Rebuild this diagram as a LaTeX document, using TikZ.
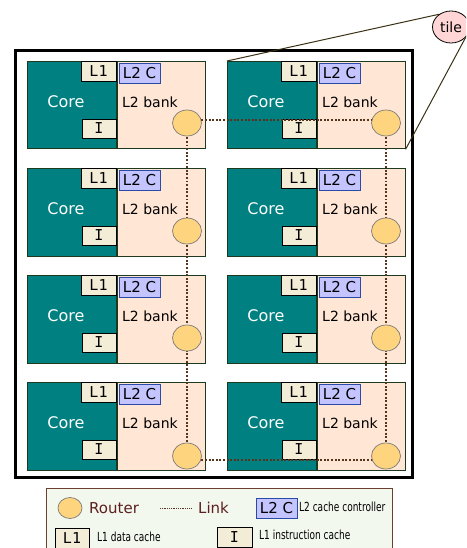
\documentclass[tikz,border=0pt]{standalone}
\usepackage{fontspec}
\setmainfont{DejaVu Sans}
\newfontfamily\monof{DejaVu Sans Mono}
\newfontfamily\condf[FakeStretch=0.72]{DejaVu Sans}
\usetikzlibrary{shapes.geometric}
\definecolor{coreteal}{HTML}{008080}
\definecolor{tileborder}{HTML}{1E3A1E}
\definecolor{peach}{HTML}{FFE6D5}
\definecolor{cream}{HTML}{F3EDD7}
\definecolor{ctrlfill}{HTML}{C4C4FF}
\definecolor{ctrlblue}{HTML}{2A4AA8}
\definecolor{routerfill}{HTML}{FFD47F}
\definecolor{routerborder}{HTML}{7A7A7A}
\definecolor{linkbrown}{HTML}{55351E}
\definecolor{tilepink}{HTML}{FFD5D5}
\definecolor{zoomline}{HTML}{3B3215}
\definecolor{legfill}{HTML}{F3F8EE}
\definecolor{legborder}{HTML}{6B4030}
\definecolor{legtext}{HTML}{5C1F1F}
\newcommand\mytile[5]{%
  \node[corebox, anchor=north west] (#1c) at (#2,#3) {};
  \node[l2box, anchor=north west] (#1b) at (#1c.north east) {};
  \node[coretext] (#1ct) at (#2+39,#3+41) {Core};
  \node[banktext] (#1bt) at (#2+123,#3+41) {L2 bank};
  \node[cachebox] (#1d) at (#2+71.5,#3+10) {L1};
  \node[cachebox, minimum width=34pt, minimum height=19pt] (#1i) at (#2+72,#3+67.5) {I};
  \node[ctrlbox] (#1k) at (#2+112.5,#3+12) {L2 C};
  \coordinate (#1r) at (#2+#4,#3+#5);
}
\begin{document}
\begin{tikzpicture}[x=1pt,y=-1pt,
  corebox/.style={draw=tileborder, fill=coreteal, minimum width=89pt, minimum height=87.5pt, inner sep=0pt, line width=0.8pt},
  l2box/.style={draw=tileborder, fill=peach, minimum width=88pt, minimum height=87.5pt, inner sep=0pt, line width=0.8pt},
  coretext/.style={text=white, font=\fontsize{16}{16}\selectfont, inner sep=0pt},
  banktext/.style={text=black, font=\fontsize{14}{14}\selectfont, inner sep=0pt},
  cachebox/.style={draw=black, fill=cream, inner sep=0pt, minimum width=35pt, minimum height=20pt, font=\monof\fontsize{15}{15}\selectfont, line width=0.8pt},
  ctrlbox/.style={draw=ctrlblue, fill=ctrlfill, minimum width=41pt, minimum height=20pt, inner sep=0pt, font=\fontsize{15}{15}\selectfont, line width=0.8pt},
  router/.style={ellipse, draw=routerborder, fill=routerfill, minimum width=29pt, minimum height=26pt, inner sep=0pt, line width=0.7pt},
  link/.style={draw=linkbrown, line width=1.9pt, dash pattern=on 1.9pt off 1.7pt},
  smalltext/.style={font=\condf\fontsize{12.5}{12.5}\selectfont, inner sep=0pt, anchor=west},
  legtxt/.style={font=\fontsize{15}{15}\selectfont, text=legtext, inner sep=0pt, anchor=west}
]
\useasboundingbox (0,0) rectangle (466,548);
\clip (0,0) rectangle (466,548);

% outer chip box
\draw[line width=3pt, black, fill=white] (15,51) rectangle (412,477);

% tiles
\mytile{a}{27}{61}{160}{62}
\mytile{b}{227}{61}{159}{62}
\mytile{c}{27}{168}{160}{63}
\mytile{d}{227}{168}{159}{63}
\mytile{e}{27}{275}{160}{63}
\mytile{f}{227}{275}{159}{63}
\mytile{g}{27}{382}{160}{74}
\mytile{h}{227}{382}{159}{74}

% links
\draw[link] ([yshift=3pt]ar) -- ([yshift=3pt]br);
\draw[link] ([yshift=-4pt]gr) -- ([yshift=-4pt]hr);
\draw[link] (ar) -- (gr);
\draw[link] (br) -- (hr);

% routers
\foreach \t in {a,b,c,d,e,f,g,h}{
  \node[router] (\t R) at (\t r) {};
}

% zoom to tile
\node[ellipse, draw=black, fill=tilepink, minimum width=37pt, minimum height=32pt, inner sep=0pt,
      font=\fontsize{14}{14}\selectfont, line width=0.8pt] (tilelbl) at (451,27) {tile};
\draw[zoomline, line width=1pt] (bc.north west) -- (tilelbl.133);
\draw[zoomline, line width=1pt] (bb.south east) -- (tilelbl.-35);

% legend
\draw[draw=legborder, fill=legfill, line width=1pt] (46,488) rectangle (392,560);
\node[router, minimum width=24pt, minimum height=21pt] (legR) at (70,508) {};
\node[legtxt] (legRt) at (89,508) {Router};
\coordinate (legL1) at (160,508);
\coordinate (legL2) at (192,508);
\draw[draw=linkbrown, line width=0.9pt, dash pattern=on 0.9pt off 0.9pt] (legL1) -- (legL2);
\node[legtxt] (legLt) at (198,508) {Link};
\node[ctrlbox] (legK) at (276.5,508) {L2 C};
\node[smalltext] (legKt) at (299,507) {L2 cache controller};
\node[cachebox, minimum width=34pt] (legD) at (72,538) {L1};
\node[smalltext] (legDt) at (97,537) {L1 data cache};
\node[cachebox] (legI) at (234.5,537) {I};
\node[smalltext] (legIt) at (259,535) {L1 instruction cache};
\end{tikzpicture}
\end{document}
